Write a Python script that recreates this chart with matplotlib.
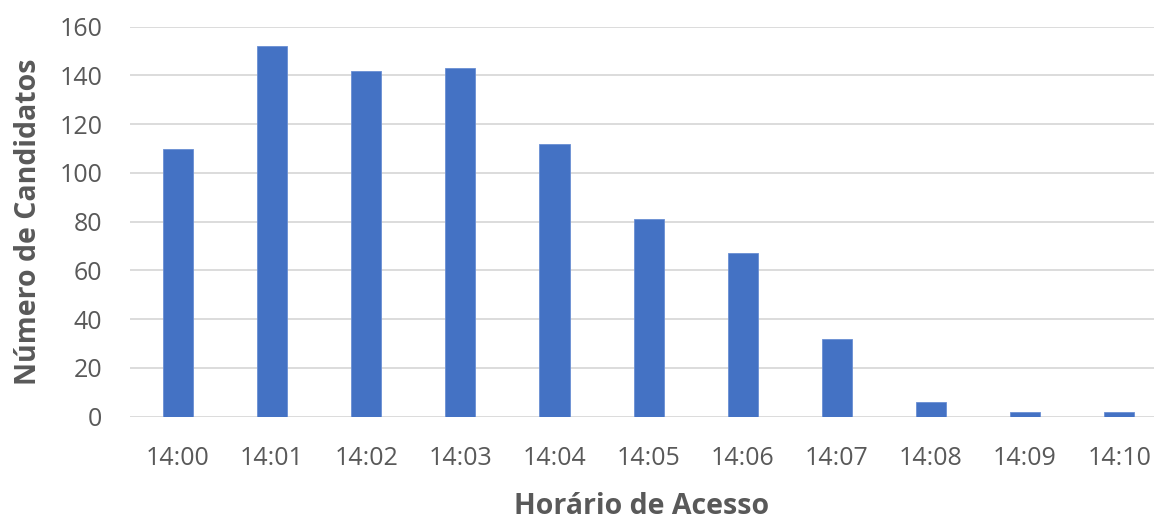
import matplotlib.pyplot as plt

horarios = ["14:00", "14:01", "14:02", "14:03", "14:04", "14:05",
            "14:06", "14:07", "14:08", "14:09", "14:10"]
candidatos = [110, 152, 142, 143, 112, 81, 67, 32, 6, 2, 2]

plt.rcParams['font.family'] = ['Open Sans', 'DejaVu Sans']

fig = plt.figure(figsize=(11.54, 5.21), dpi=100)
ax = fig.add_axes([130 / 1154, 104.3 / 521, 1 - 130 / 1154, 390 / 521])

x = range(len(horarios))
ax.bar(x, candidatos, width=0.32, color="#4472C4", edgecolor="#6a8fd3", linewidth=0.6, zorder=3)

ax.set_ylim(0, 160)
ax.set_xlim(-0.51, 10.37)
ax.set_yticks(range(0, 161, 20))
ax.set_xticks(list(x))
ax.set_xticklabels(horarios)
ax.grid(axis="y", color="#d9d9d9", linewidth=1.3, zorder=0)
for s in ax.spines.values():
    s.set_visible(False)
ax.tick_params(length=0, labelsize=18, colors="#595959")
ax.tick_params(axis="x", pad=21)
ax.tick_params(axis="y", pad=20)

ax.set_xlabel("Horário de Acesso", fontsize=20.5, fontweight="bold", color="#595959", labelpad=15)
ax.set_ylabel("Número de Candidatos", fontsize=20.5, fontweight="bold", color="#595959", labelpad=12)

fig.savefig("out.png", dpi=100)
